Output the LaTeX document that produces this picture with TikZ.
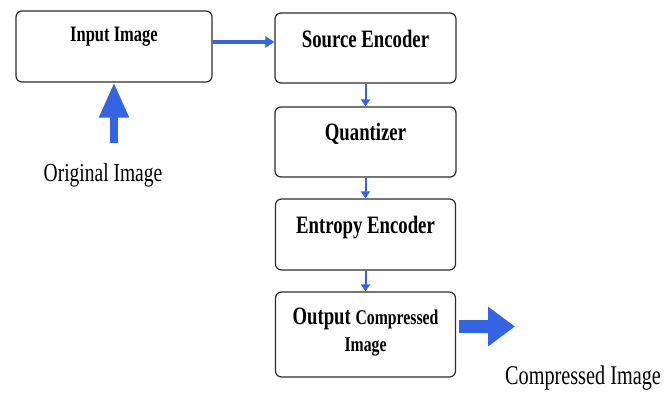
\documentclass[tikz,border=0pt]{standalone}
\usepackage{fontspec}
\setmainfont[FakeStretch=0.75]{Liberation Serif}
\usepackage{xcolor}
\definecolor{flowblue}{RGB}{50, 100, 228}
\definecolor{boxgray}{RGB}{45, 45, 45}
\usepackage{tikz}
\usetikzlibrary{arrows.meta}

\begin{document}
\begin{tikzpicture}[x=1pt, y=-1pt, >=Triangle,
    stage/.style={draw=boxgray, line width=1.2pt, rounded corners=6pt, minimum width=180pt, minimum height=70pt, inner sep=0pt, align=center, font=\fontsize{25}{27}\selectfont\bfseries},
    flow/.style={draw=flowblue, line width=2pt, -{Triangle[length=7pt, width=9pt]}},
    bigflow/.style={draw=flowblue, line width=#1}]
    \useasboundingbox (0,0) rectangle (670,394);
    % stages
    \node[stage, minimum width=196pt, minimum height=71pt, text height=14pt, text depth=24pt, font=\fontsize{22}{24}\selectfont\bfseries] (input) at (114, 46.5) {Input Image};
    \node[stage, minimum width=181pt, text height=17pt, text depth=19pt] (source) at (365.5, 48) {Source Encoder};
    \node[stage, minimum width=181pt, text height=17pt, text depth=21pt] (quant) at (365.5, 142) {Quantizer};
    \node[stage, minimum height=71pt, text height=17pt, text depth=20pt] (entropy) at (365.5, 234.5) {Entropy Encoder};
    \node[stage, minimum height=85pt] (output) at (365.5, 334.5) {Output {\fontsize{21}{23}\selectfont Compressed}\\{\fontsize{21}{23}\selectfont Image}\rule[-9pt]{0pt}{0pt}};
    % free texts
    \node[font=\fontsize{26}{28}\selectfont] (orig) at (103, 175) {Original Image};
    \node[font=\fontsize{27}{29}\selectfont] (comp) at (583, 378) {Compressed Image};
    \coordinate (origtail) at (114, 143);
    \coordinate (outtip) at (515, 326.5);
    % arrows
    \draw[flow, line width=3.5pt, -{Triangle[length=9pt, width=11pt]}] ([yshift=4.5pt]input.east) -- ([yshift=4.5pt]input.east -| source.west);
    \draw[flow] (source.south) -- (quant.north);
    \draw[flow] (quant.south) -- (entropy.north);
    \draw[flow] (entropy.south) -- (output.north);
    \draw[bigflow=8pt, -{Triangle[length=35pt, width=28pt]}] (origtail) -- (input.south);
    \draw[bigflow=13pt, -{Triangle[length=27pt, width=38pt]}] ([xshift=3pt]output.east |- outtip) -- (outtip);
\end{tikzpicture}
\end{document}
